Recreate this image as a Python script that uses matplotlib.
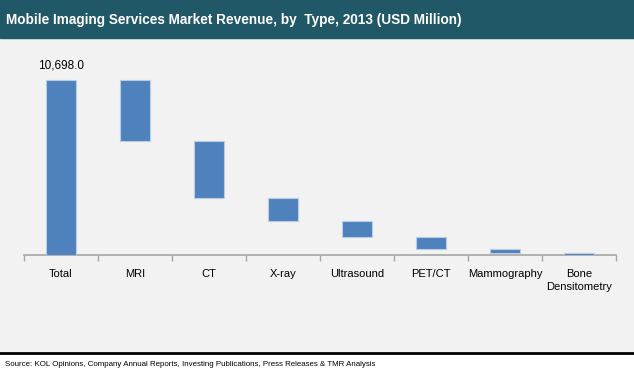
import matplotlib
matplotlib.use("Agg")
import matplotlib.pyplot as plt
import numpy as np

plt.rcParams['font.family'] = ['Liberation Sans', 'DejaVu Sans']

categories = ["Total", "MRI", "CT", "X-ray", "Ultrasound", "PET/CT", "Mammography", "Bone\nDensitometry"]
total = 10698.0
segments = [3730, 3465, 1405, 1020, 735, 225, 118]
title = "Mobile Imaging Services Market Revenue, by  Type, 2013 (USD Million)"
source = "Source: KOL Opinions, Company Annual Reports, Investing Publications, Press Releases & TMR Analysis"

W, H = 634, 373
fig = plt.figure(figsize=(W/100, H/100), dpi=100)
fig.patch.set_facecolor("white")

# backgrounds
fig.add_artist(plt.Rectangle((0, (H-352)/H), 1, 314/H, transform=fig.transFigure, color="#f2f2f2", zorder=0))
fig.add_artist(plt.Rectangle((0, (H-38)/H), 1, 38/H, transform=fig.transFigure, color="#215868", zorder=0))
fig.add_artist(plt.Line2D([0, 1], [(H-353)/H]*2, transform=fig.transFigure, color="black", lw=2, zorder=1))

fig.text(6/W, (H-20)/H, title, color="white", fontsize=9.8, fontweight="bold", va="center", ha="left")
fig.text(5/W, (H-364)/H, source, color="black", fontsize=5.7, va="center", ha="left")

ax = fig.add_axes([24/W, (H-255)/H, 592/W, 196/H])
ax.set_facecolor("none")

x = np.arange(len(categories))
bottoms = [0]
heights = [total]
cur = total
for s in segments:
    cur -= s
    bottoms.append(cur)
    heights.append(s)

ax.bar(x, heights, bottom=bottoms, width=0.4, color="#4f81bd", edgecolor="#b9cde5", linewidth=0.8, zorder=3)
ax.annotate(f"{total:,.1f}", (x[0], total), xytext=(0, 6), textcoords="offset points",
            ha="center", va="bottom", fontsize=8.5)

ax.set_xlim(-0.5, len(categories) - 0.5)
ax.set_ylim(0, 12000)
for sp in ["top", "right", "left"]:
    ax.spines[sp].set_visible(False)
ax.spines["bottom"].set_color("#a6a6a6")
ax.spines["bottom"].set_linewidth(1.2)
ax.set_yticks([])
ax.set_xticks(np.arange(len(categories) + 1) - 0.5, minor=False)
ax.set_xticklabels([""] * (len(categories) + 1))
ax.tick_params(axis="x", which="major", length=4, color="#a6a6a6", width=1)
ax.set_xticks(x, minor=True)
ax.set_xticklabels(categories, minor=True, fontsize=8, linespacing=1.35)
ax.tick_params(axis="x", which="minor", length=0, pad=10)

fig.savefig("out.png", dpi=100, facecolor=fig.get_facecolor())
